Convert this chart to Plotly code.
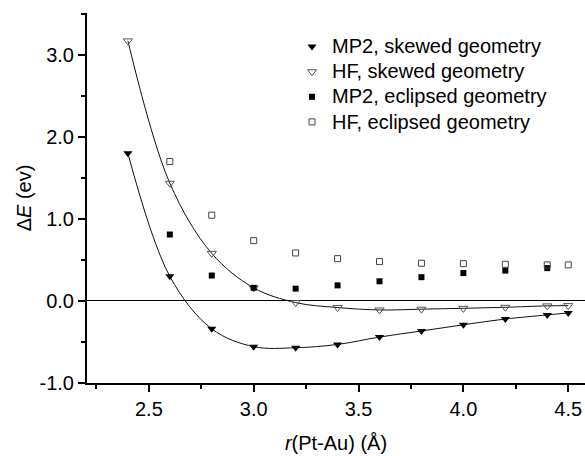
import plotly.graph_objects as go

# Data
r_skew = [2.4, 2.6, 2.8, 3.0, 3.2, 3.4, 3.6, 3.8, 4.0, 4.2, 4.4, 4.5]
mp2_skew = [1.80, 0.30, -0.34, -0.557, -0.57, -0.53, -0.44, -0.366, -0.29, -0.22, -0.17, -0.146]
hf_skew = [3.17, 1.435, 0.58, 0.16, -0.02, -0.08, -0.11, -0.10, -0.09, -0.077, -0.06, -0.057]

r_ecl_mp2 = [2.6, 2.8, 3.0, 3.2, 3.4, 3.6, 3.8, 4.0, 4.2, 4.4]
mp2_ecl = [0.81, 0.31, 0.16, 0.15, 0.19, 0.24, 0.29, 0.34, 0.37, 0.40]
r_ecl_hf = [2.6, 2.8, 3.0, 3.2, 3.4, 3.6, 3.8, 4.0, 4.2, 4.4, 4.5]
hf_ecl = [1.70, 1.045, 0.735, 0.585, 0.516, 0.48, 0.46, 0.455, 0.447, 0.44, 0.44]

series_names = ["MP2, skewed geometry", "HF, skewed geometry",
                "MP2, eclipsed geometry", "HF, eclipsed geometry"]

x_ticks = [2.5, 3.0, 3.5, 4.0, 4.5]
y_ticks = [-1.0, 0.0, 1.0, 2.0, 3.0]
y_ticklabels = ["-1.0", "0.0", "1.0", "2.0", "3.0"]

FONT = "Arial, Liberation Sans, sans-serif"


def big(s):
    return '<span style="font-size:20px">' + s + '</span>'


fig = go.Figure()

# fitted curves through skewed series (no legend entry)
fig.add_trace(go.Scatter(x=r_skew, y=mp2_skew, mode="lines", showlegend=False,
                         line=dict(color="#111", width=1, shape="spline", smoothing=1.0),
                         hoverinfo="skip"))
fig.add_trace(go.Scatter(x=r_skew, y=hf_skew, mode="lines", showlegend=False,
                         line=dict(color="#111", width=1, shape="spline", smoothing=1.0),
                         hoverinfo="skip"))

fig.add_trace(go.Scatter(x=r_skew, y=mp2_skew, mode="markers", name=big(series_names[0]),
                         marker=dict(symbol="triangle-down", size=8, color="black",
                                     line=dict(width=0))))
fig.add_trace(go.Scatter(x=r_skew, y=hf_skew, mode="markers", name=big(series_names[1]),
                         marker=dict(symbol="triangle-down-open", size=8, color="#555",
                                     line=dict(width=1, color="#555"))))
fig.add_trace(go.Scatter(x=r_ecl_mp2, y=mp2_ecl, mode="markers", name=big(series_names[2]),
                         marker=dict(symbol="square", size=6, color="black",
                                     line=dict(width=0))))
fig.add_trace(go.Scatter(x=r_ecl_hf, y=hf_ecl, mode="markers", name=big(series_names[3]),
                         marker=dict(symbol="square-open", size=6, color="#444",
                                     line=dict(width=1, color="#444"))))

fig.update_layout(
    width=585, height=456,
    margin=dict(l=87, r=0, t=13, b=73),
    paper_bgcolor="white", plot_bgcolor="white",
    font=dict(family=FONT, size=20, color="black"),
    showlegend=True,
    legend=dict(x=0.4117, y=0.9566, xanchor="left", yanchor="top",
                bgcolor="rgba(0,0,0,0)", font=dict(size=17),
                itemsizing="trace"),
    xaxis=dict(range=[2.205, 4.58], showline=True, linecolor="black", linewidth=2,
               automargin=False,
               ticks="outside", ticklen=7, tickwidth=2, tickcolor="black",
               tickvals=x_ticks, tickformat=".1f", showgrid=False, zeroline=False,
               minor=dict(ticks="outside", ticklen=4, tickwidth=2, tickcolor="black",
                          dtick=0.25, tick0=2.25, showgrid=False),
               title=dict(text="<i>r</i>(Pt-Au) (Å)", standoff=17,
                          font=dict(size=20))),
    yaxis=dict(range=[-1.0, 3.51], showline=True, linecolor="black", linewidth=2,
               automargin=False,
               ticks="outside", ticklen=7, tickwidth=2, tickcolor="black",
               tickvals=y_ticks, ticktext=y_ticklabels, showgrid=False,
               zeroline=True, zerolinecolor="black", zerolinewidth=1,
               minor=dict(ticks="outside", ticklen=4, tickwidth=2, tickcolor="black",
                          dtick=0.5, tick0=-0.5, showgrid=False),
               title=dict(text="Δ<i>E</i> (ev)", standoff=3, font=dict(size=20))),
)

fig.write_html("out.html", config={"displayModeBar": False},
               post_script="document.body.style.margin='0px';document.body.style.overflow='hidden';")
